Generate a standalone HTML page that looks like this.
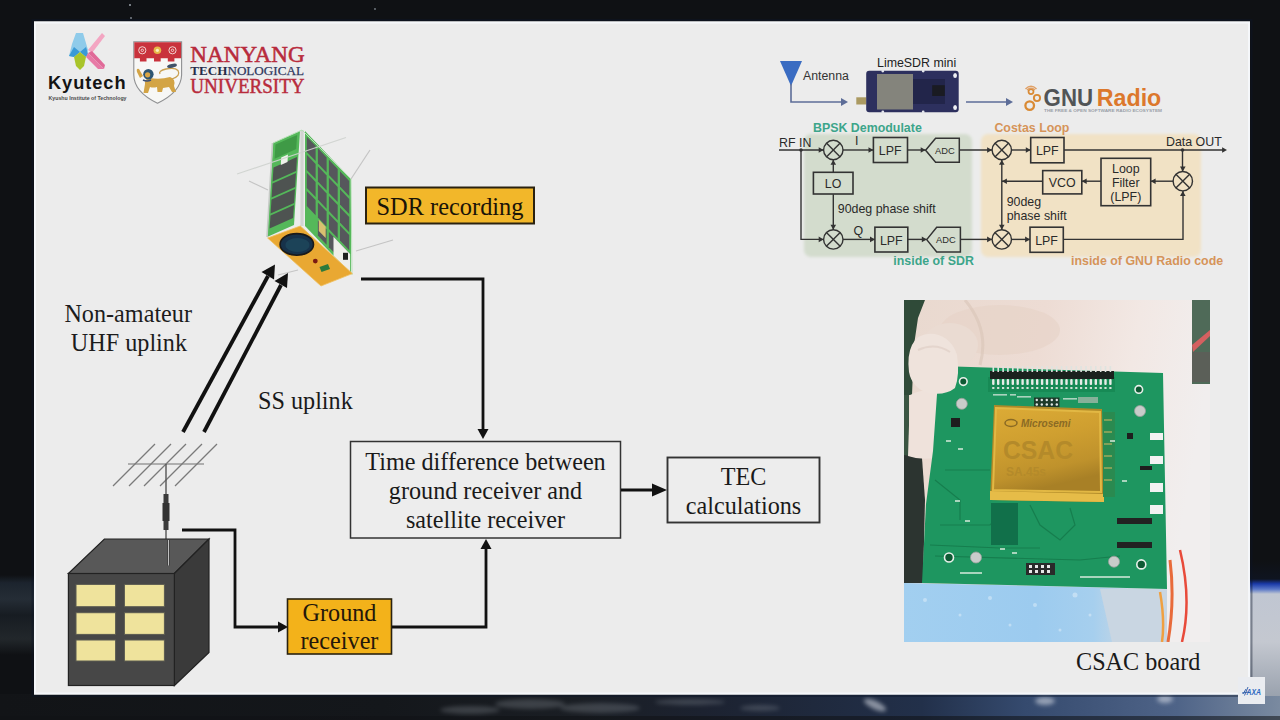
<!DOCTYPE html>
<html><head><meta charset="utf-8">
<style>
html,body{margin:0;padding:0;}
body{width:1280px;height:720px;overflow:hidden;position:relative;background:#0e1013;font-family:"Liberation Sans",sans-serif;}
svg{position:absolute;left:0;top:0;}
.serif{font-family:"Liberation Serif",serif;}
.sans{font-family:"Liberation Sans",sans-serif;}
</style></head>
<body>
<svg width="1280" height="720" viewBox="0 0 1280 720">
<defs>
  <linearGradient id="bottomBand" x1="0" y1="0" x2="1" y2="0">
    <stop offset="0" stop-color="#121417"/>
    <stop offset="0.3" stop-color="#14171b"/>
    <stop offset="0.45" stop-color="#1a1e24"/>
    <stop offset="0.55" stop-color="#1c2230"/>
    <stop offset="0.72" stop-color="#22304a"/>
    <stop offset="0.8" stop-color="#354a6e"/>
    <stop offset="0.92" stop-color="#4f6488"/>
    <stop offset="1" stop-color="#7a8aa0"/>
  </linearGradient>
  <linearGradient id="earthR" x1="0" y1="0" x2="0" y2="1">
    <stop offset="0" stop-color="#0f1114"/>
    <stop offset="0.14" stop-color="#0f1420"/>
    <stop offset="0.175" stop-color="#1a3aa8"/>
    <stop offset="0.215" stop-color="#5a78c8"/>
    <stop offset="0.25" stop-color="#c0c6d2"/>
    <stop offset="0.6" stop-color="#c4c8d0"/>
    <stop offset="1" stop-color="#9aa2ae"/>
  </linearGradient>
  <linearGradient id="leftCloud" x1="0" y1="0" x2="0" y2="1">
    <stop offset="0" stop-color="#0f1114"/>
    <stop offset="0.1" stop-color="#1c242e"/>
    <stop offset="0.3" stop-color="#252d36"/>
    <stop offset="0.5" stop-color="#171c22"/>
    <stop offset="0.8" stop-color="#22272b"/>
    <stop offset="1" stop-color="#0f1114"/>
  </linearGradient>
  <filter id="soft" x="-5%" y="-5%" width="110%" height="110%" color-interpolation-filters="sRGB"><feGaussianBlur stdDeviation="0.8"/></filter>
  <filter id="blur2" x="-20%" y="-50%" width="140%" height="200%"><feGaussianBlur stdDeviation="2"/></filter>
  <filter id="panelblur" x="-5%" y="-5%" width="110%" height="110%"><feGaussianBlur stdDeviation="1.5"/></filter>
  <filter id="gblur" x="0" y="0" width="1280" height="720" filterUnits="userSpaceOnUse"><feGaussianBlur stdDeviation="0.45"/></filter>
  <marker id="ah" viewBox="0 0 10 10" refX="10" refY="5" markerWidth="10" markerHeight="10" markerUnits="userSpaceOnUse" orient="auto">
    <path d="M0,0 L10,5 L0,10 z" fill="#111"/>
  </marker>
</defs>
<g>

<!-- background -->
<rect x="0" y="0" width="1280" height="720" fill="#0f1114"/>
<rect x="0" y="694" width="1280" height="26" fill="url(#bottomBand)"/>
<rect x="0" y="716" width="1280" height="4" fill="#101216" opacity="0.55"/>
<g fill="#9aa0a8" opacity="0.28" filter="url(#blur2)">
  <ellipse cx="470" cy="710" rx="30" ry="4"/>
  <ellipse cx="530" cy="704" rx="35" ry="5"/>
  <ellipse cx="600" cy="708" rx="40" ry="5"/>
  <ellipse cx="690" cy="702" rx="35" ry="3"/>
  <ellipse cx="760" cy="708" rx="20" ry="3"/>
</g>
<g fill="#e0e4ec" opacity="0.55" filter="url(#blur2)">
  <ellipse cx="875" cy="705" rx="12" ry="4" transform="rotate(25 875 705)"/>
  <ellipse cx="1045" cy="701" rx="10" ry="4"/>
  <ellipse cx="1165" cy="699" rx="8" ry="4"/>
</g>
<rect x="1250" y="560" width="30" height="136" fill="url(#earthR)"/>
<rect x="0" y="575" width="34" height="80" fill="url(#leftCloud)"/>
<circle cx="130" cy="5" r="1" fill="#9aa0a8"/>
<circle cx="131" cy="18" r="1" fill="#7a8088"/>
<circle cx="375" cy="9" r="0.9" fill="#7a8088"/>
<!-- slide -->
<rect x="32.5" y="20" width="1219" height="676" fill="none" stroke="#0a1428" stroke-width="2" opacity="0.4"/>
<rect x="34" y="21.5" width="1216" height="673" fill="#ececec"/>
<rect x="35" y="22.5" width="1214" height="671" fill="none" stroke="#f5f7fa" stroke-width="2"/>



<!-- ===== LOGOS ===== -->
<!-- Kyutech mark -->
<g>
  <polygon points="76,33 83,33 88,50 86,57 80,52 74,57 69,56 72,44" fill="#8fcbea"/>
  <polygon points="69,56 74,47 80,52 74,57" fill="#3a9ad6"/>
  <polygon points="80,52 86,47 88,54 86,57" fill="#3a9ad6"/>
  <polygon points="74,57 80,52 86,57 84,66 80,70 76,66" fill="#a9c42a"/>
  <polygon points="88,50 102,33 105,36 92,53" fill="#f3a6c2"/>
  <polygon points="88,53 92,51 105,65 104,69" fill="#e06a98"/>
  <polygon points="86,57 88,53 104,69 98,69" fill="#e77aa6"/>
</g>
<text x="48" y="89.4" font-size="17.5" font-weight="700" fill="#141414" letter-spacing="0.9" textLength="78.5" lengthAdjust="spacingAndGlyphs">Kyutech</text>
<text x="48.5" y="100" font-size="4.6" font-weight="700" fill="#4a4a4a" textLength="78" lengthAdjust="spacingAndGlyphs">Kyushu Institute of Technology</text>

<!-- NTU shield -->
<g>
  <path d="M133.8,41.8 L181.6,41.8 L181.6,75 Q181,92 157.5,103.2 Q134,92 133.8,75 Z" fill="#f7f7f5" stroke="#8f9092" stroke-width="1.1"/>
  <path d="M134.3,42.3 L181.1,42.3 L181.1,58.3 L174.4,58.3 L174.4,61.6 L167.8,61.6 L167.8,58.3 L160.7,58.3 L160.7,61.6 L154,61.6 L154,58.3 L146.5,58.3 L146.5,61.6 L139.9,61.6 L139.9,58.3 L134.3,58.3 Z" fill="#c9323c"/>
  <g fill="none" stroke="#f2d4d0" stroke-width="1">
    <circle cx="142.3" cy="50.3" r="3.6"/><circle cx="142.3" cy="50.3" r="1.2"/>
    <circle cx="172.5" cy="50.3" r="3.6"/><circle cx="172.5" cy="50.3" r="1.2"/>
  </g>
  <circle cx="157.4" cy="50.3" r="3.8" fill="#e6b84a"/>
  <circle cx="157.4" cy="50.3" r="1.6" fill="#fbeec0"/>
  <!-- lion -->
  <path d="M150,78 Q160,80 170,77 Q176,79 174,86 L176,92 L172,92 L169,87 L163,88 L162,92 L157.5,92 L157,87 Q153,88 150,87 L148,93 L143.5,93 L145,84 Q144,79 150,78 Z" fill="#d3a445"/>
  <path d="M172,79 Q181,76 178,70.5 Q175,67 166,69 Q158,71 160,74" fill="none" stroke="#c9a050" stroke-width="1.3"/>
  <ellipse cx="172" cy="65.8" rx="5" ry="1.9" fill="#3f5268" transform="rotate(-12 172 65.8)"/>
  <circle cx="148.4" cy="74.2" r="5.2" fill="#2e5672"/>
  <circle cx="147.6" cy="74.8" r="2.6" fill="#d9a646"/>
  <path d="M137,72 Q136,68 139,69 L143,76 L140,78 Z" fill="#d3a445"/>
  <path d="M143,80 Q147,82 151,80" stroke="#3b4f78" stroke-width="1.6" fill="none"/>
</g>
<text x="190.3" y="61.7" class="serif" font-size="23.5" fill="#b82b3c" stroke="#b82b3c" stroke-width="0.55" textLength="114.3" lengthAdjust="spacingAndGlyphs">NANYANG</text>
<text x="190.3" y="75.4" class="serif" font-size="13" fill="#2c3457" textLength="113.6" lengthAdjust="spacingAndGlyphs"><tspan font-weight="700" fill="#262c48">TECH</tspan><tspan stroke="#34406a" stroke-width="0.25">NOLOGICAL</tspan></text>
<text x="190.3" y="92.9" class="serif" font-size="20" fill="#b82b3c" stroke="#b82b3c" stroke-width="0.45" textLength="114.3" lengthAdjust="spacingAndGlyphs">UNIVERSITY</text>

<!-- ===== LEFT DIAGRAM ===== -->
<!-- satellite antennas (behind) -->
<g stroke="#c4c4c4" stroke-width="1.2" fill="none">
  <line x1="249" y1="181" x2="268" y2="190"/>
  <line x1="351" y1="179" x2="370" y2="150"/>
  <line x1="356" y1="251" x2="393" y2="240"/>
  <line x1="278" y1="275" x2="298" y2="270"/>
</g>
<!-- satellite body -->
<g>
<polygon points="273.0,143.0 300.0,131.0 294.0,225.0 267.0,237.0" fill="#54b85a" />
<polygon points="273.5,167.4 297.0,157.0 296.1,171.1 272.6,181.5" fill="#4e5351" />
<polygon points="272.5,183.4 296.0,173.0 295.1,187.1 271.6,197.5" fill="#4e5351" />
<polygon points="271.5,199.4 295.0,188.9 294.1,203.0 270.6,213.5" fill="#4e5351" />
<polygon points="270.5,215.4 294.0,204.9 293.1,218.1 269.6,228.5" fill="#4e5351" />
<polygon points="281.2,157.6 288.0,154.6 287.5,162.1 280.8,165.1" fill="#eef2ea" />
<polygon points="275.5,144.6 297.1,135.0 296.2,149.1 274.6,158.7" fill="#3f9a46" />
<polygon points="305.0,131.0 351.0,179.0 351.0,274.0 305.0,226.0" fill="#55b85a" />
<polygon points="306.8,136.7 315.6,145.8 315.6,161.0 306.8,151.9" fill="#56575c" />
<polygon points="306.8,154.8 315.6,163.9 315.6,179.1 306.8,170.0" fill="#56575c" />
<polygon points="306.8,172.8 315.6,181.9 315.6,197.1 306.8,188.0" fill="#56575c" />
<polygon points="306.8,190.9 315.6,200.0 315.6,215.2 306.8,206.1" fill="#56575c" />
<polygon points="317.9,148.2 326.6,157.4 326.6,172.6 317.9,163.4" fill="#56575c" />
<polygon points="317.9,166.3 326.6,175.4 326.6,190.6 317.9,181.5" fill="#56575c" />
<polygon points="317.9,184.3 326.6,193.5 326.6,208.7 317.9,199.5" fill="#56575c" />
<polygon points="317.9,202.4 326.6,211.5 326.6,226.7 317.9,217.6" fill="#56575c" />
<polygon points="317.9,220.4 326.6,229.6 326.6,244.8 317.9,235.6" fill="#56575c" />
<polygon points="328.9,159.8 337.7,168.9 337.7,184.1 328.9,175.0" fill="#56575c" />
<polygon points="328.9,177.8 337.7,186.9 337.7,202.1 328.9,193.0" fill="#56575c" />
<polygon points="328.9,195.9 337.7,205.0 337.7,220.2 328.9,211.1" fill="#56575c" />
<polygon points="328.9,213.9 337.7,223.0 337.7,238.2 328.9,229.1" fill="#56575c" />
<polygon points="328.9,232.0 337.7,241.1 337.7,256.3 328.9,247.2" fill="#56575c" />
<polygon points="340.0,171.3 349.2,180.9 349.2,196.1 340.0,186.5" fill="#56575c" />
<polygon points="340.0,189.3 349.2,198.9 349.2,214.1 340.0,204.5" fill="#56575c" />
<polygon points="340.0,207.4 349.2,217.0 349.2,232.2 340.0,222.6" fill="#56575c" />
<polygon points="340.0,225.4 349.2,235.0 349.2,250.2 340.0,240.6" fill="#56575c" />
<polygon points="340.0,243.5 349.2,253.1 349.2,268.3 340.0,258.7" fill="#56575c" />
<polygon points="333.5,236.8 350.1,254.0 350.1,273.0 333.5,255.8" fill="#eeeeea" />
<rect x="343.0" y="252.8" width="5" height="7" fill="#1e1e1e"/>
<polygon points="318.8,219.5 325.7,226.7 325.7,238.1 318.8,230.9" fill="#d8c070" />
<line x1="302" y1="130" x2="302" y2="226" stroke="#d2d4d2" stroke-width="3.2"/>
<line x1="272.5" y1="143" x2="267" y2="237" stroke="#c6cac6" stroke-width="1.6"/>
<polyline points="273,143 302,130 351,179 352,275" fill="none" stroke="#b8e0b8" stroke-width="1"/>
<polygon points="267.6,238 300.3,226 352.4,273.6 321,286" fill="#e9a832" stroke="#f0c060" stroke-width="0.8"/>
<ellipse cx="296.8" cy="244.4" rx="16.7" ry="10.8" fill="#17324a" stroke="#1a1a1a" stroke-width="1.6"/>
<ellipse cx="297.5" cy="245" rx="12" ry="7" fill="#1f4a5e" opacity="0.7"/>
<circle cx="315.3" cy="261.1" r="2.4" fill="#7a1a12"/>
<polygon points="319.5,267 328,264 330,269 321.5,272" fill="#2d7a3c"/>
</g>
<line x1="237" y1="174" x2="346" y2="137.5" stroke="#cfd3cf" stroke-width="1.1" opacity="0.9"/>
<!-- SDR recording box -->
<rect x="366" y="187.5" width="168" height="36" fill="#f2b72a" stroke="#2a2210" stroke-width="2"/>
<text x="450" y="214.5" text-anchor="middle" class="serif" font-size="24.4" fill="#1a1408">SDR recording</text>

<!-- line satellite -> time difference -->
<polyline points="361,279 483,279 483,432" fill="none" stroke="#111" stroke-width="2.8"/>
<polygon points="477.5,429 488.5,429 483,439" fill="#111"/>

<!-- uplink arrows -->
<g stroke="#111" stroke-width="3.8" fill="none" stroke-linecap="butt">
  <line x1="183" y1="432" x2="268" y2="276"/>
  <line x1="204" y1="432" x2="281" y2="285"/>
</g>
<polygon points="275,264.5 261.5,272 274,279.5" fill="#111"/>
<polygon points="288,273 274.5,281 287,288" fill="#111"/>

<!-- labels -->
<text x="128.2" y="321.8" text-anchor="middle" class="serif" font-size="24.2" fill="#1c1c1c">Non-amateur</text>
<text x="128.9" y="351.4" text-anchor="middle" class="serif" font-size="24.2" fill="#1c1c1c">UHF uplink</text>
<text x="258" y="408.7" class="serif" font-size="24.2" fill="#1a1a1a">SS uplink</text>

<!-- yagi antenna -->
<g stroke="#7a7a7a" stroke-width="1.3">
  <line x1="128" y1="464" x2="204" y2="464" stroke="#9a9a9a" stroke-width="1.6"/>
  <line x1="113" y1="486" x2="155" y2="444"/>
  <line x1="129" y1="486" x2="171" y2="444"/>
  <line x1="144" y1="486" x2="186" y2="444"/>
  <line x1="160" y1="486" x2="202" y2="444"/>
  <line x1="175" y1="486" x2="217" y2="444"/>
</g>
<line x1="166" y1="464" x2="166" y2="548" stroke="#555" stroke-width="1.4"/>
<rect x="163.5" y="494" width="5" height="36" fill="#3a3a3a"/>
<rect x="162.5" y="503" width="7" height="18" fill="#333"/>

<!-- building -->
<polygon points="68.4,573.5 104.4,539 209,539 174.4,573.5" fill="#585858" stroke="#222" stroke-width="1.2"/>
<polygon points="174.4,573.5 209,539 209,652.5 174.4,685.5" fill="#3a3a3a" stroke="#222" stroke-width="1.2"/>
<rect x="68.4" y="573.5" width="106" height="112" fill="#474747" stroke="#222" stroke-width="1.2"/>
<line x1="168.5" y1="540" x2="168.5" y2="565.5" stroke="#333" stroke-width="2.2"/>
<line x1="168.5" y1="540" x2="168.5" y2="565.5" stroke="#cfcfcf" stroke-width="0.9"/>
<g fill="#efe39c" stroke="#5a5a50" stroke-width="1">
  <rect x="76" y="584.4" width="39.6" height="22.3"/>
  <rect x="124.4" y="584.4" width="40" height="22.3"/>
  <rect x="76" y="612.7" width="39.6" height="21.7"/>
  <rect x="124.4" y="612.7" width="40" height="21.7"/>
  <rect x="76" y="640" width="39.6" height="21"/>
  <rect x="124.4" y="640" width="40" height="21"/>
</g>
<!-- building -> ground receiver line -->
<polyline points="182,530 235,530 235,627 279,627" fill="none" stroke="#111" stroke-width="2.8"/>
<polygon points="278,621.5 288,627 278,632.5" fill="#111"/>
<!-- ground receiver box -->
<rect x="287.5" y="599" width="104" height="55" fill="#f3b21a" stroke="#2a2210" stroke-width="1.6"/>
<text x="339.5" y="621" text-anchor="middle" class="serif" font-size="24.2" fill="#24170a">Ground</text>
<text x="339.5" y="649.4" text-anchor="middle" class="serif" font-size="24.2" fill="#24170a">receiver</text>
<!-- ground receiver -> time difference -->
<polyline points="392,627 486,627 486,548" fill="none" stroke="#111" stroke-width="2.8"/>
<polygon points="480.5,549 491.5,549 486,539" fill="#111"/>

<!-- time difference box -->
<rect x="350.5" y="441.5" width="270" height="96.5" fill="#ededed" stroke="#333" stroke-width="1.5"/>
<text x="485.5" y="470" text-anchor="middle" class="serif" font-size="24.2" fill="#1a1a1a">Time difference between</text>
<text x="485.5" y="498.5" text-anchor="middle" class="serif" font-size="24.2" fill="#1a1a1a">ground receiver and</text>
<text x="485.5" y="527.5" text-anchor="middle" class="serif" font-size="24.2" fill="#1a1a1a">satellite receiver</text>
<!-- arrow to TEC -->
<line x1="621" y1="490" x2="656" y2="490" stroke="#111" stroke-width="3"/>
<polygon points="652,483.5 667,490 652,496.5" fill="#111"/>
<!-- TEC box -->
<rect x="667.5" y="457.5" width="152" height="65" fill="#ededed" stroke="#333" stroke-width="1.9"/>
<text x="743.5" y="485" text-anchor="middle" class="serif" font-size="24.2" fill="#1a1a1a">TEC</text>
<text x="743.5" y="514" text-anchor="middle" class="serif" font-size="24.2" fill="#1a1a1a">calculations</text>

<!-- ===== GNU RADIO DIAGRAM ===== -->
<rect x="804" y="134" width="168" height="123" rx="7" fill="#d3dccd" filter="url(#panelblur)"/>
<rect x="981" y="134" width="220" height="123" rx="7" fill="#f1e2c5" filter="url(#panelblur)"/>
<polygon points="780,61 802,61 791,86" fill="#3a6cc2"/>
<polyline points="791,84 791,102 845,102" fill="none" stroke="#5d6d98" stroke-width="1.6"/>
<polygon points="848,102 841,98 841,106" fill="#5d6d98"/>
<text x="803" y="79.6" font-size="12.3" fill="#333">Antenna</text>
<text x="877" y="67" font-size="12.4" fill="#222">LimeSDR mini</text>
<rect x="856.3" y="97.3" width="10" height="7.2" fill="#ab9a62"/>
<rect x="866.2" y="70.8" width="92.5" height="41.4" rx="3" fill="#2d305e"/>
<rect x="877" y="74" width="36" height="35.5" fill="#84847c"/>
<rect x="913" y="79" width="32" height="25" fill="#22254a"/>
<rect x="932.2" y="85.2" width="12.6" height="10.8" fill="#1a1b22"/>
<ellipse cx="955.1" cy="75.5" rx="1.9" ry="2.6" fill="#eef0f4"/>
<ellipse cx="955.1" cy="107.5" rx="1.9" ry="2.6" fill="#eef0f4"/>
<circle cx="882.8" cy="71" r="1.4" fill="#e4e6ec"/><circle cx="923.2" cy="71" r="1.4" fill="#e4e6ec"/>
<circle cx="882.8" cy="112" r="1.4" fill="#e4e6ec"/><circle cx="923.2" cy="112" r="1.4" fill="#e4e6ec"/>
<line x1="966" y1="102" x2="1010" y2="102" stroke="#5d6d98" stroke-width="1.6"/>
<polygon points="1013,102 1006,98 1006,106" fill="#5d6d98"/>
<g fill="none" stroke="#d98a34">
  <circle cx="1029.7" cy="105.6" r="4.3" stroke-width="2.3"/>
  <circle cx="1037" cy="98" r="3.1" stroke-width="1.9"/>
  <circle cx="1031" cy="91.6" r="2.5" stroke-width="1.7"/>
  <path d="M1025.5,89 Q1031,83.6 1036.5,89" stroke-width="1.5" stroke="#e0a066"/>
  <path d="M1027,90 Q1031,86.5 1035,90" stroke-width="1.3" stroke="#e0a066"/>
</g>
<text x="1043.6" y="105.6" font-size="24.8" font-weight="700" fill="#515456" textLength="49.5" lengthAdjust="spacingAndGlyphs">GNU</text>
<text x="1096.8" y="105.6" font-size="24.8" font-weight="700" fill="#dc782c" textLength="64.5" lengthAdjust="spacingAndGlyphs">Radio</text>
<text x="1044" y="111.8" font-size="3.6" font-weight="700" fill="#9aa0a8" textLength="118" lengthAdjust="spacingAndGlyphs">THE FREE &amp; OPEN SOFTWARE RADIO ECOSYSTEM</text>
<text x="813" y="131.7" font-size="12.4" font-weight="700" fill="#3da58a">BPSK Demodulate</text>
<text x="994.4" y="131.7" font-size="12.4" font-weight="700" fill="#d69459">Costas Loop</text>
<text x="893.3" y="265" font-size="12.4" font-weight="700" fill="#3da58a">inside of SDR</text>
<text x="1071" y="265" font-size="12.4" font-weight="700" fill="#d69459">inside of GNU Radio code</text>
<g font-size="12.4" fill="#2a2a2a">
<text x="779" y="146.8">RF IN</text>
<text x="1166" y="146">Data OUT</text>
<text x="855" y="145">I</text>
<text x="853.5" y="235">Q</text>
<text x="837.8" y="212.8">90deg phase shift</text>
<text x="1006.7" y="206">90deg</text>
<text x="1006.7" y="220">phase shift</text>
<text x="890.2" y="154.8" text-anchor="middle">LPF</text>
<text x="891.3" y="244.5" text-anchor="middle">LPF</text>
<text x="1047.3" y="154.8" text-anchor="middle">LPF</text>
<text x="1046.6" y="244.5" text-anchor="middle">LPF</text>
<text x="833" y="188" text-anchor="middle">LO</text>
<text x="1062.2" y="186.5" text-anchor="middle">VCO</text>
<text x="1125.8" y="172.5" text-anchor="middle">Loop</text>
<text x="1125.8" y="186.5" text-anchor="middle">Filter</text>
<text x="1125.8" y="200.5" text-anchor="middle">(LPF)</text>
<text x="944.8" y="153.5" text-anchor="middle" font-size="9.3">ADC</text>
<text x="945.8" y="243" text-anchor="middle" font-size="9.3">ADC</text>
</g>
<g stroke="#333" stroke-width="1.4" fill="none">
<line x1="779" y1="150" x2="823.6" y2="150"/>
<line x1="843" y1="150" x2="873.4" y2="150"/>
<line x1="907.5" y1="150" x2="925.6" y2="150"/>
<line x1="959.3" y1="150" x2="992" y2="150"/>
<line x1="1011.5" y1="150" x2="1030.7" y2="150"/>
<line x1="1064" y1="150" x2="1224" y2="150"/>
<polyline points="801,150 801,239.4 823.6,239.4"/>
<line x1="843" y1="239.4" x2="874.9" y2="239.4"/>
<line x1="907.8" y1="239.4" x2="926.7" y2="239.4"/>
<line x1="960.4" y1="239.4" x2="992" y2="239.4"/>
<line x1="1011.5" y1="239.4" x2="1030" y2="239.4"/>
<polyline points="1063.3,239.4 1183,239.4 1183,191"/>
<line x1="833.3" y1="159.7" x2="833.3" y2="172.3"/>
<line x1="833.3" y1="194.2" x2="833.3" y2="229.7"/>
<line x1="1182.5" y1="150" x2="1182.5" y2="171.5"/>
<line x1="1173.3" y1="181.2" x2="1150.7" y2="181.2"/>
<line x1="1101" y1="181.2" x2="1081.8" y2="181.2"/>
<line x1="1042.7" y1="181.2" x2="1002" y2="181.2"/>
<line x1="1001.8" y1="159.7" x2="1001.8" y2="229.7"/>
<g stroke-width="1.6">
<rect x="873.4" y="137.5" width="34.1" height="25.0"/>
<rect x="874.9" y="227.2" width="32.9" height="24.8"/>
<rect x="1030.7" y="137.5" width="33.3" height="25.3"/>
<rect x="1030" y="227.2" width="33.3" height="25.1"/>
<rect x="813.4" y="172.3" width="39.6" height="21.7"/>
<rect x="1042.7" y="170.6" width="39.1" height="23.3"/>
<rect x="1101" y="158.3" width="49.7" height="47.4"/>
<polygon points="925.6,150.3 935.6,138.3 959.3,138.3 959.3,162.3 935.6,162.3" fill="none" stroke-width="1.5"/>
<polygon points="926.7,239.6 936.7,227.2 960.4,227.2 960.4,252 936.7,252" fill="none" stroke-width="1.5"/>
</g>
<circle cx="833.3" cy="150" r="9.7" fill="none"/><line x1="826.4" y1="143.1" x2="840.2" y2="156.9"/><line x1="826.4" y1="156.9" x2="840.2" y2="143.1"/>
<circle cx="833.3" cy="239.4" r="9.7" fill="none"/><line x1="826.4" y1="232.5" x2="840.2" y2="246.3"/><line x1="826.4" y1="246.3" x2="840.2" y2="232.5"/>
<circle cx="1001.8" cy="150" r="9.7" fill="none"/><line x1="994.9" y1="143.1" x2="1008.7" y2="156.9"/><line x1="994.9" y1="156.9" x2="1008.7" y2="143.1"/>
<circle cx="1001.8" cy="239.4" r="9.7" fill="none"/><line x1="994.9" y1="232.5" x2="1008.7" y2="246.3"/><line x1="994.9" y1="246.3" x2="1008.7" y2="232.5"/>
<circle cx="1182.8" cy="181.2" r="9.7" fill="none"/><line x1="1175.9" y1="174.3" x2="1189.7" y2="188.1"/><line x1="1175.9" y1="188.1" x2="1189.7" y2="174.3"/>
</g>
<polygon points="823.6,150 818.7,147.2 818.7,152.8" fill="#333" stroke="none"/>
<polygon points="873.4,150 868.5,147.2 868.5,152.8" fill="#333" stroke="none"/>
<polygon points="925.6,150 920.7,147.2 920.7,152.8" fill="#333" stroke="none"/>
<polygon points="992,150 987.1,147.2 987.1,152.8" fill="#333" stroke="none"/>
<polygon points="1030.7,150 1025.8,147.2 1025.8,152.8" fill="#333" stroke="none"/>
<polygon points="1227,150 1222.1,147.2 1222.1,152.8" fill="#333" stroke="none"/>
<polygon points="823.6,239.4 818.7,236.6 818.7,242.20000000000002" fill="#333" stroke="none"/>
<polygon points="874.9,239.4 870.0,236.6 870.0,242.20000000000002" fill="#333" stroke="none"/>
<polygon points="926.7,239.4 921.8000000000001,236.6 921.8000000000001,242.20000000000002" fill="#333" stroke="none"/>
<polygon points="992,239.4 987.1,236.6 987.1,242.20000000000002" fill="#333" stroke="none"/>
<polygon points="1030,239.4 1025.1,236.6 1025.1,242.20000000000002" fill="#333" stroke="none"/>
<polygon points="833.3,159.9 830.5,164.8 836.0999999999999,164.8" fill="#333" stroke="none"/>
<polygon points="833.3,229.7 830.5,224.79999999999998 836.0999999999999,224.79999999999998" fill="#333" stroke="none"/>
<polygon points="1182.8,171.5 1180.0,166.6 1185.6,166.6" fill="#333" stroke="none"/>
<polygon points="1182.8,191 1180.0,195.9 1185.6,195.9" fill="#333" stroke="none"/>
<polygon points="1150.7,181.2 1155.6000000000001,178.39999999999998 1155.6000000000001,184.0" fill="#333" stroke="none"/>
<polygon points="1081.8,181.2 1086.7,178.39999999999998 1086.7,184.0" fill="#333" stroke="none"/>
<polygon points="1002,181.2 1006.9,178.39999999999998 1006.9,184.0" fill="#333" stroke="none"/>
<polygon points="1001.8,159.9 999.0,164.8 1004.5999999999999,164.8" fill="#333" stroke="none"/>
<polygon points="1001.8,229.7 999.0,224.79999999999998 1004.5999999999999,224.79999999999998" fill="#333" stroke="none"/>
<circle cx="1182.5" cy="150" r="1.8" fill="#333"/>
<circle cx="801" cy="150" r="1.8" fill="#333"/>

<!-- ===== CSAC PHOTO ===== -->
<defs>
  <clipPath id="photoClip"><rect x="904" y="300" width="306" height="342"/></clipPath>
  <linearGradient id="glove" x1="0" y1="0" x2="1" y2="0.2">
    <stop offset="0" stop-color="#e9d9cf"/>
    <stop offset="0.45" stop-color="#eddcd4"/>
    <stop offset="0.75" stop-color="#f2e8e4"/>
    <stop offset="1" stop-color="#f1eeee"/>
  </linearGradient>
  <linearGradient id="bag" x1="0" y1="0" x2="1" y2="0">
    <stop offset="0" stop-color="#a2cff0"/>
    <stop offset="0.5" stop-color="#9ccbef"/>
    <stop offset="0.72" stop-color="#a6cfee"/>
    <stop offset="0.85" stop-color="#c6d6e4"/>
    <stop offset="1" stop-color="#d8dce2"/>
  </linearGradient>
  <linearGradient id="csacGold" x1="0" y1="0" x2="0.3" y2="1">
    <stop offset="0" stop-color="#dcab36"/>
    <stop offset="0.45" stop-color="#cf9f30"/>
    <stop offset="0.8" stop-color="#bf922c"/>
    <stop offset="1" stop-color="#a88026"/>
  </linearGradient>
</defs>
<g clip-path="url(#photoClip)">
  <rect x="904" y="300" width="306" height="342" fill="url(#glove)"/>
  <!-- glove shading -->
  <ellipse cx="1000" cy="330" rx="60" ry="25" fill="#e6d2c6" opacity="0.6"/>
  <ellipse cx="950" cy="345" rx="28" ry="22" fill="#eadbd2"/>
  <path d="M965,300 Q990,330 980,365" stroke="#d9c4b8" stroke-width="3" fill="none" opacity="0.6"/>
  <!-- dark background bits -->
  <polygon points="904,300 925,300 918,318 914,345 912,395 904,395" fill="#2f4a38"/>
  <polygon points="904,395 909,395 909,460 904,460" fill="#3a5542"/>
  <polygon points="904,455 922,458 925,500 923,583 904,583" fill="#2c3430"/>
  <rect x="1192" y="300" width="18" height="84" fill="#4f6a58"/>
  <polygon points="1192,345 1210,330 1210,336 1193,352" fill="#d46060"/>
  <rect x="1192" y="352" width="18" height="30" fill="#5b5f58"/>
  <!-- glove finger on left -->
  <path d="M910,395 Q930,385 950,395 Q955,420 945,455 Q925,462 908,456 Z" fill="#efe2db"/>
  <!-- blue bag -->
  <polygon points="904,583 1167,589 1167,642 904,642" fill="url(#bag)"/>
  <g fill="#ffffff" opacity="0.35">
    <circle cx="925" cy="600" r="2"/><circle cx="960" cy="615" r="1.5"/><circle cx="990" cy="598" r="2"/>
    <circle cx="1010" cy="625" r="1.5"/><circle cx="1035" cy="605" r="2"/><circle cx="1060" cy="630" r="1.5"/>
    <circle cx="1075" cy="595" r="2.5"/><circle cx="1090" cy="615" r="1.5"/>
  </g>
  <polygon points="1100,589 1167,589 1167,642 1112,642" fill="#c9d6e2"/>
  <path d="M1170,560 Q1175,600 1168,642" stroke="#e86a3a" stroke-width="3" fill="none"/>
  <path d="M1180,550 Q1192,600 1182,642" stroke="#e84a3a" stroke-width="2.5" fill="none"/>
  <path d="M1160,592 Q1165,620 1162,642" stroke="#f0a040" stroke-width="2.5" fill="none"/>
  <!-- PCB -->
  <polygon points="939,366 1163,373 1167,589 922,583 926,504 933,451" fill="#1e9660"/>
  <!-- traces -->
  <g stroke="#167e4e" stroke-width="1.2" fill="none">
    <path d="M930,545 L1000,548 L1040,548"/>
    <path d="M1030,505 L1040,525 L1060,540 L1075,525 L1070,508"/>
    <path d="M945,470 L990,470"/>
    <path d="M940,525 L990,525 L1000,515"/>
    <path d="M935,556 L1080,560 L1120,556"/>
    <path d="M935,480 L960,500 L960,520"/>
  </g>
  <rect x="991" y="503" width="27" height="42" fill="#11704a"/>
  <!-- thumb over PCB corner -->
  <path d="M912,345 Q918,332 935,334 Q952,338 957,355 Q960,375 955,388 Q945,396 928,393 Q912,388 909,372 Q907,355 912,345 Z" fill="#efe3dc"/>
  <path d="M918,350 Q935,342 950,352" stroke="#e0cfc6" stroke-width="2" fill="none" opacity="0.7"/>
  <!-- header connector -->
<rect x="988" y="377" width="127" height="15" fill="#178a55"/>
<rect x="990" y="371" width="124" height="8" fill="#1b211e"/>
<g fill="#dfe4e0"><rect x="992.5" y="366" width="1.6" height="6"/><rect x="997.4" y="366" width="1.6" height="6"/><rect x="1002.3" y="366" width="1.6" height="6"/><rect x="1007.1" y="366" width="1.6" height="6"/><rect x="1012.0" y="366" width="1.6" height="6"/><rect x="1016.9" y="366" width="1.6" height="6"/><rect x="1021.8" y="366" width="1.6" height="6"/><rect x="1026.7" y="366" width="1.6" height="6"/><rect x="1031.5" y="366" width="1.6" height="6"/><rect x="1036.4" y="366" width="1.6" height="6"/><rect x="1041.3" y="366" width="1.6" height="6"/><rect x="1046.2" y="366" width="1.6" height="6"/><rect x="1051.1" y="366" width="1.6" height="6"/><rect x="1055.9" y="366" width="1.6" height="6"/><rect x="1060.8" y="366" width="1.6" height="6"/><rect x="1065.7" y="366" width="1.6" height="6"/><rect x="1070.6" y="366" width="1.6" height="6"/><rect x="1075.5" y="366" width="1.6" height="6"/><rect x="1080.3" y="366" width="1.6" height="6"/><rect x="1085.2" y="366" width="1.6" height="6"/><rect x="1090.1" y="366" width="1.6" height="6"/><rect x="1095.0" y="366" width="1.6" height="6"/><rect x="1099.9" y="366" width="1.6" height="6"/><rect x="1104.7" y="366" width="1.6" height="6"/><rect x="1109.6" y="366" width="1.6" height="6"/></g>
<g fill="#e8ece8"><rect x="992.1" y="379" width="2.4" height="6" rx="1"/><rect x="997.0" y="379" width="2.4" height="6" rx="1"/><rect x="1001.9" y="379" width="2.4" height="6" rx="1"/><rect x="1006.7" y="379" width="2.4" height="6" rx="1"/><rect x="1011.6" y="379" width="2.4" height="6" rx="1"/><rect x="1016.5" y="379" width="2.4" height="6" rx="1"/><rect x="1021.4" y="379" width="2.4" height="6" rx="1"/><rect x="1026.3" y="379" width="2.4" height="6" rx="1"/><rect x="1031.1" y="379" width="2.4" height="6" rx="1"/><rect x="1036.0" y="379" width="2.4" height="6" rx="1"/><rect x="1040.9" y="379" width="2.4" height="6" rx="1"/><rect x="1045.8" y="379" width="2.4" height="6" rx="1"/><rect x="1050.7" y="379" width="2.4" height="6" rx="1"/><rect x="1055.5" y="379" width="2.4" height="6" rx="1"/><rect x="1060.4" y="379" width="2.4" height="6" rx="1"/><rect x="1065.3" y="379" width="2.4" height="6" rx="1"/><rect x="1070.2" y="379" width="2.4" height="6" rx="1"/><rect x="1075.1" y="379" width="2.4" height="6" rx="1"/><rect x="1079.9" y="379" width="2.4" height="6" rx="1"/><rect x="1084.8" y="379" width="2.4" height="6" rx="1"/><rect x="1089.7" y="379" width="2.4" height="6" rx="1"/><rect x="1094.6" y="379" width="2.4" height="6" rx="1"/><rect x="1099.5" y="379" width="2.4" height="6" rx="1"/><rect x="1104.3" y="379" width="2.4" height="6" rx="1"/><rect x="1109.2" y="379" width="2.4" height="6" rx="1"/></g>
<g fill="#cfe0d6"><rect x="992.2" y="387" width="2.2" height="2"/><rect x="997.1" y="387" width="2.2" height="2"/><rect x="1002.0" y="387" width="2.2" height="2"/><rect x="1006.8" y="387" width="2.2" height="2"/><rect x="1011.7" y="387" width="2.2" height="2"/><rect x="1016.6" y="387" width="2.2" height="2"/><rect x="1021.5" y="387" width="2.2" height="2"/><rect x="1026.4" y="387" width="2.2" height="2"/><rect x="1031.2" y="387" width="2.2" height="2"/><rect x="1036.1" y="387" width="2.2" height="2"/><rect x="1041.0" y="387" width="2.2" height="2"/><rect x="1045.9" y="387" width="2.2" height="2"/><rect x="1050.8" y="387" width="2.2" height="2"/><rect x="1055.6" y="387" width="2.2" height="2"/><rect x="1060.5" y="387" width="2.2" height="2"/><rect x="1065.4" y="387" width="2.2" height="2"/><rect x="1070.3" y="387" width="2.2" height="2"/><rect x="1075.2" y="387" width="2.2" height="2"/><rect x="1080.0" y="387" width="2.2" height="2"/><rect x="1084.9" y="387" width="2.2" height="2"/><rect x="1089.8" y="387" width="2.2" height="2"/><rect x="1094.7" y="387" width="2.2" height="2"/><rect x="1099.6" y="387" width="2.2" height="2"/><rect x="1104.4" y="387" width="2.2" height="2"/><rect x="1109.3" y="387" width="2.2" height="2"/></g>
<rect x="1034" y="397.5" width="25.5" height="9.5" fill="#1d3a2a"/>
<g fill="#e0e6e2"><circle cx="1036.8" cy="400" r="1.2"/><circle cx="1036.8" cy="404.5" r="1.2"/><circle cx="1041.8" cy="400" r="1.2"/><circle cx="1041.8" cy="404.5" r="1.2"/><circle cx="1046.8" cy="400" r="1.2"/><circle cx="1046.8" cy="404.5" r="1.2"/><circle cx="1051.8" cy="400" r="1.2"/><circle cx="1051.8" cy="404.5" r="1.2"/><circle cx="1056.8" cy="400" r="1.2"/><circle cx="1056.8" cy="404.5" r="1.2"/></g>
<g fill="#cfe3d6" opacity="0.8"><rect x="993" y="394" width="14" height="1.6"/><rect x="1010" y="394" width="6" height="1.6"/><rect x="1017" y="396" width="14" height="1.6"/><rect x="1063" y="398" width="14" height="1.6"/><rect x="1078" y="397" width="20" height="6" fill="#a0b8a8"/></g>
  <!-- CSAC module -->
  <polygon points="994,405 1102,409 1104,502 990,500" fill="#b08a28"/>
  <polygon points="996,408 1100,412 1101,492 993,490" fill="url(#csacGold)" stroke="#e2b844" stroke-width="2"/>
  <polygon points="990,491 1104,494 1104,502 990,500" fill="#e6bc48"/>
  <rect x="1103" y="412" width="12" height="85" fill="#2a8a50"/>
  <g stroke="#d8b860" stroke-width="1"><path d="M1104,420 h8 M1104,432 h8 M1104,444 h8 M1104,456 h8 M1104,468 h8 M1104,480 h8"/></g>
  <text x="1021" y="427" font-size="10" font-weight="700" fill="#8a6a24" font-style="italic">Microsemi</text>
  <ellipse cx="1011" cy="423" rx="6" ry="3.5" fill="none" stroke="#8a6a24" stroke-width="1.5"/>
  <text x="1003" y="459" font-size="26" font-weight="700" fill="#b48a2a" textLength="70" lengthAdjust="spacingAndGlyphs">CSAC</text>
  <text x="1006" y="476" font-size="12" font-weight="700" fill="#b48a2a">SA.45s</text>
  <!-- holes & screws -->
  <g fill="#0e5a34" stroke="#e8f0ea" stroke-width="1.6">
    <circle cx="963.3" cy="381.6" r="3.8"/>
    <circle cx="1138.8" cy="389.4" r="3.8"/>
    <circle cx="949" cy="557.5" r="4.5"/>
    <circle cx="1141.3" cy="564.4" r="4.5"/>
  </g>
  <g fill="#c8ccca" stroke="#9aa09c" stroke-width="0.8">
    <circle cx="961.8" cy="403.8" r="5.5"/>
    <circle cx="1140" cy="411" r="5.5"/>
    <circle cx="976" cy="557.5" r="5.5"/>
    <circle cx="1114" cy="561.7" r="5.5"/>
  </g>
  <!-- pin headers right -->
  <g fill="#222">
    <rect x="1117" y="518" width="35" height="6"/>
    <rect x="1117" y="542" width="35" height="6"/>
    <rect x="1026" y="563" width="29" height="12" fill="#2a2a2a"/>
  </g>
  <g fill="#e8e8e8">
    <rect x="1029" y="565" width="3" height="3"/><rect x="1035" y="565" width="3" height="3"/><rect x="1041" y="565" width="3" height="3"/><rect x="1047" y="565" width="3" height="3"/>
    <rect x="1029" y="570" width="3" height="3"/><rect x="1035" y="570" width="3" height="3"/><rect x="1041" y="570" width="3" height="3"/><rect x="1047" y="570" width="3" height="3"/>
  </g>
  <g fill="#f2f2f2">
    <rect x="1150" y="433" width="13" height="7"/>
    <rect x="1150" y="456" width="13" height="8"/>
    <rect x="1150" y="483" width="13" height="9"/>
    <rect x="1150" y="505" width="13" height="9"/>
  </g>
  <!-- small components -->
  <g fill="#1e1e1e">
    <rect x="951" y="418" width="9" height="9"/>
    <rect x="1127" y="433" width="6" height="6"/>
    <rect x="1140" y="466" width="12" height="4"/>
  </g>
  <g fill="#d8eadc" opacity="0.75">
    <rect x="946" y="440" width="5" height="2"/><rect x="958" y="448" width="5" height="2"/>
    <rect x="955" y="500" width="5" height="2"/><rect x="965" y="520" width="5" height="2"/>
    <rect x="1000" y="548" width="5" height="2"/><rect x="1012" y="552" width="5" height="2"/>
    <rect x="1110" y="440" width="5" height="2"/><rect x="1122" y="480" width="5" height="2"/>
    <rect x="960" y="572" width="22" height="2"/><rect x="1080" y="576" width="50" height="2"/>
  </g>
</g>
<!-- CSAC label -->
<text x="1076" y="670" class="serif" font-size="24.2" fill="#1a1a1a">CSAC board</text>


<!-- JAXA -->
<rect x="1238" y="677" width="27" height="27" fill="#eaecf0"/>
<text x="1246.5" y="694.5" font-size="8.2" font-weight="700" font-style="italic" fill="#2a68c0" textLength="14.5" lengthAdjust="spacingAndGlyphs">AXA</text>
<path d="M1243,694 L1246,689 M1244.5,695.5 L1248,687 M1242,693 L1249,692" stroke="#2a5aa8" stroke-width="0.9" fill="none"/>
</g>
</svg>
</body></html>
